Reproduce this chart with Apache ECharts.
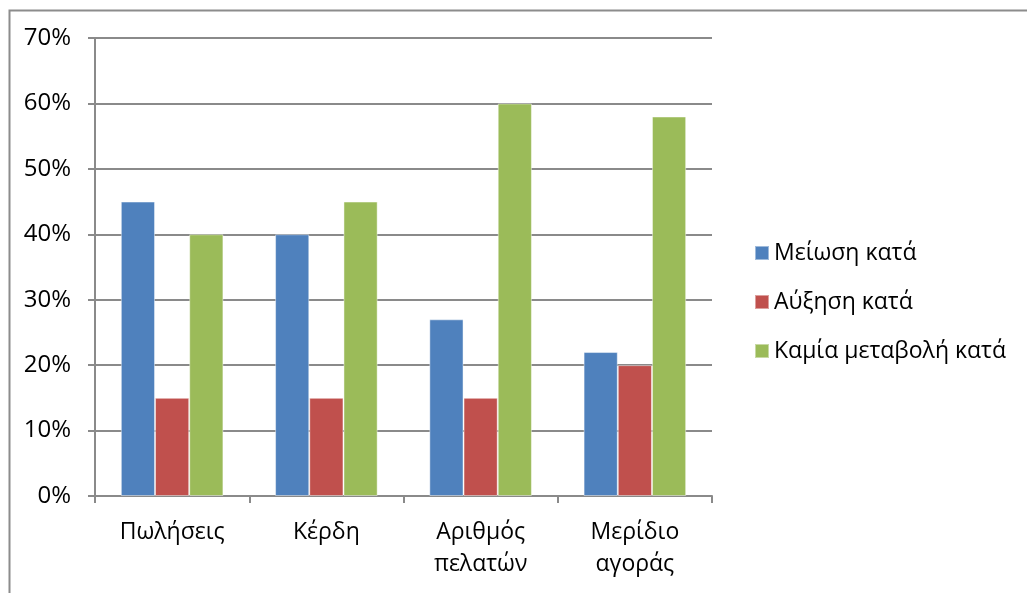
<!DOCTYPE html>
<html>
<head>
<meta charset="utf-8">
<script src="https://cdn.jsdelivr.net/npm/echarts@6/dist/echarts.min.js"></script>
<style>
  html, body { margin: 0; padding: 0; background: #fff; }
  #chart { width: 1027px; height: 593px; }
</style>
</head>
<body>
<div id="chart"></div>
<script>
// Categories and per-series percentages
const categories = ['Πωλήσεις', 'Κέρδη', 'Αριθμός\nπελατών', 'Μερίδιο\nαγοράς'];
const seriesNames = ['Μείωση κατά', 'Αύξηση κατά', 'Καμία μεταβολή κατά'];
const decrease = [45, 40, 27, 22];
const increase = [15, 15, 15, 20];
const noChange = [40, 45, 60, 58];
const yTicks = [0, 10, 20, 30, 40, 50, 60, 70];

const colors = ['#4F81BD', '#C0504D', '#9BBB59'];
const font = '"Open Sans", "Noto Sans", sans-serif';
const gridColor = '#8a8a8a';

const chart = echarts.init(document.getElementById('chart'), null, { renderer: 'canvas' });

function barSeries(name, data, color) {
  return {
    name: name,
    type: 'bar',
    data: data,
    barGap: '0%',
    barCategoryGap: '33.5%',
    itemStyle: { color: color, borderColor: 'rgba(255,255,255,0.45)', borderWidth: 1 },
    emphasis: { disabled: true }
  };
}

chart.setOption({
  animation: false,
  color: colors,
  textStyle: { fontFamily: font },
  graphic: [{
    type: 'rect',
    left: 7, top: 8,
    shape: { x: 0, y: 0, width: 1040, height: 610 },
    style: { fill: 'none', stroke: '#8c8c8c', lineWidth: 2 },
    silent: true, z: -1
  }],
  grid: { left: 95, top: 38, width: 617, height: 458, containLabel: false },
  legend: {
    orient: 'vertical',
    left: 754, top: 241,
    padding: 0,
    itemWidth: 14, itemHeight: 14,
    itemGap: 25,
    itemTextGap: 7,
    icon: 'rect',
    data: seriesNames,
    textStyle: { fontFamily: font, fontSize: 23, color: '#000', lineHeight: 24 }
  },
  xAxis: {
    type: 'category',
    data: categories,
    axisLine: { lineStyle: { color: gridColor, width: 2 } },
    axisTick: { show: true, length: 7, alignWithLabel: false, lineStyle: { color: gridColor, width: 2 } },
    axisLabel: { fontFamily: font, fontSize: 23, color: '#000', margin: 20, lineHeight: 32, interval: 0 }
  },
  yAxis: {
    type: 'value',
    min: yTicks[0], max: yTicks[yTicks.length - 1], interval: 10,
    axisLine: { show: true, lineStyle: { color: gridColor, width: 2 } },
    axisTick: { show: true, length: 7, lineStyle: { color: gridColor, width: 2 } },
    splitLine: { lineStyle: { color: gridColor, width: 2 } },
    axisLabel: { fontFamily: font, fontSize: 24, color: '#000', margin: 24, formatter: v => v + '%' }
  },
  series: [
    barSeries(seriesNames[0], decrease, colors[0]),
    barSeries(seriesNames[1], increase, colors[1]),
    barSeries(seriesNames[2], noChange, colors[2])
  ]
});
</script>
</body>
</html>
